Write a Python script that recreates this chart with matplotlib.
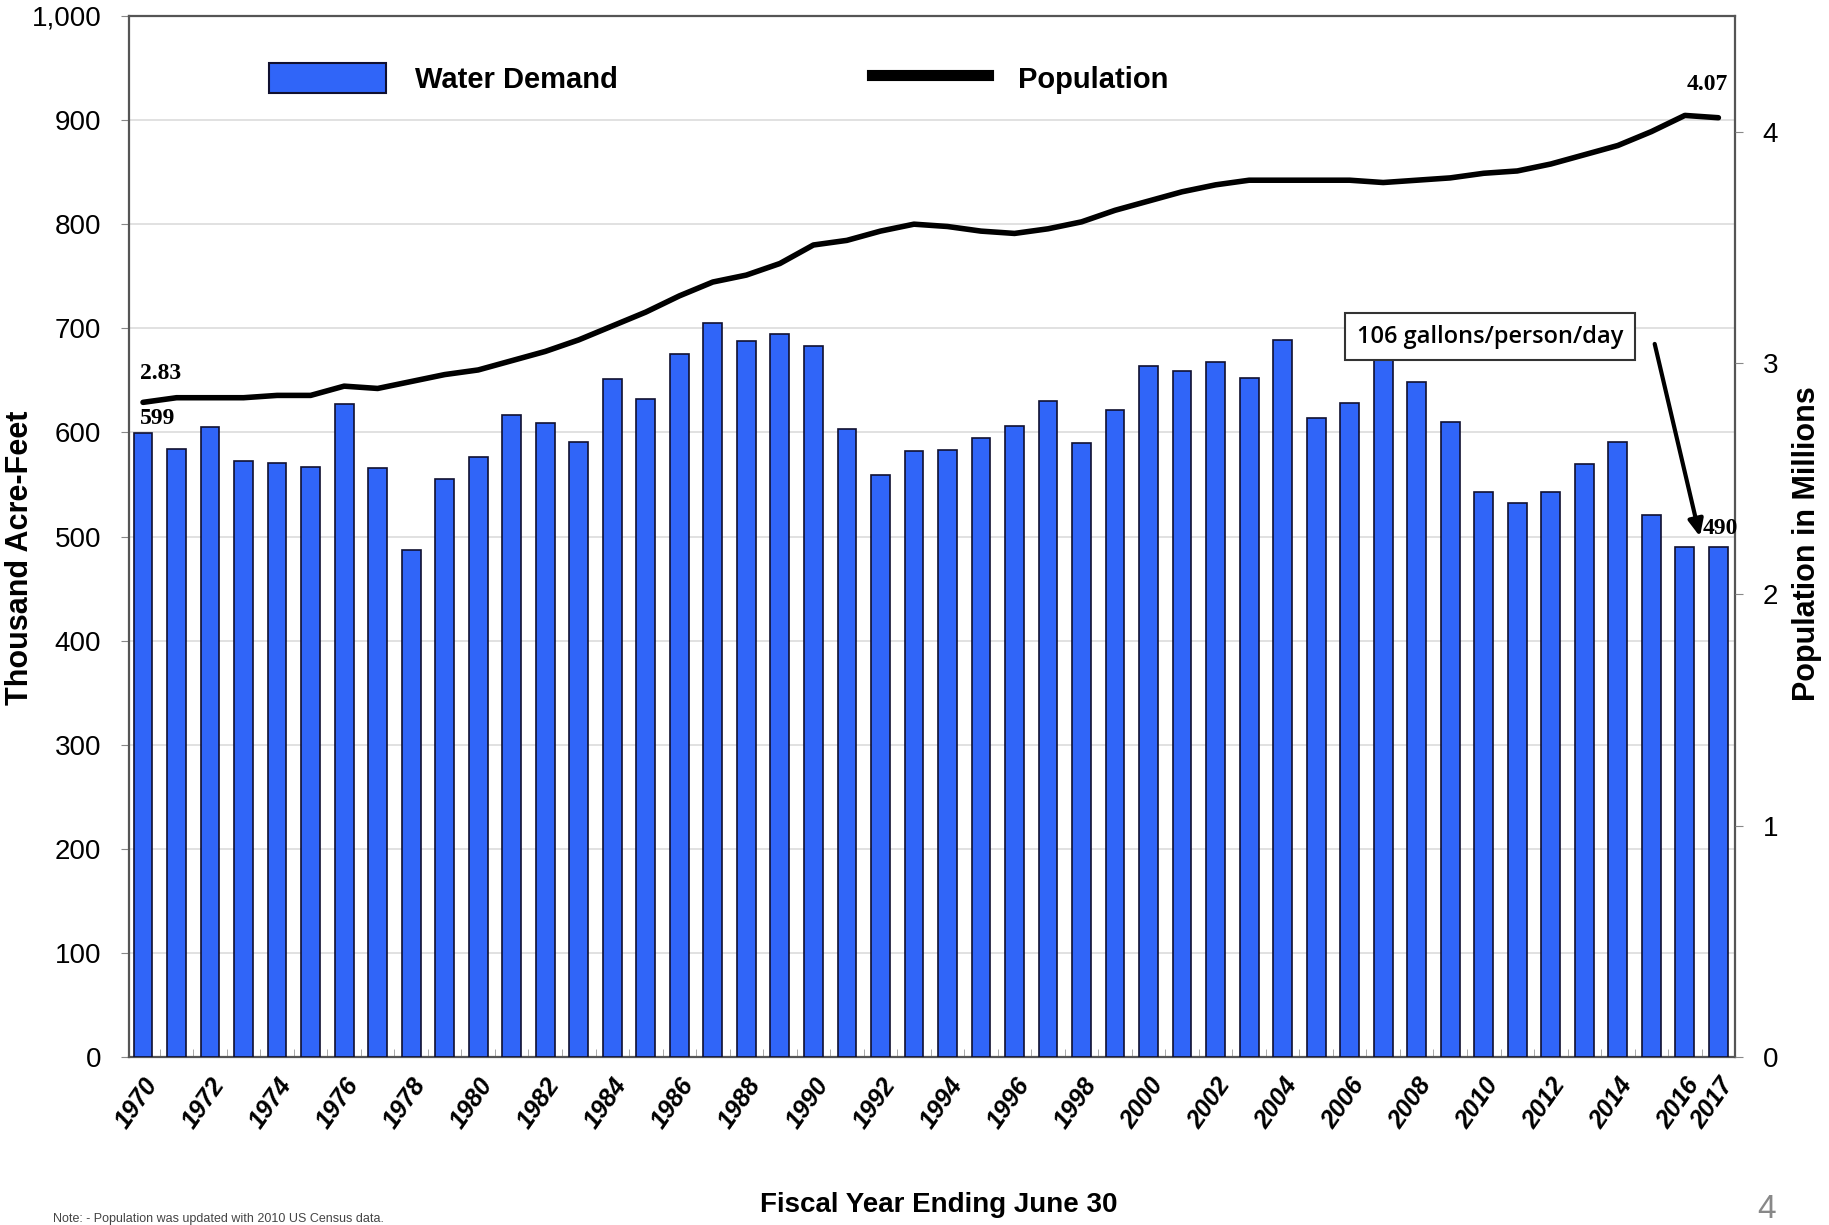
import matplotlib.pyplot as plt
import numpy as np
from matplotlib.patches import Patch
from matplotlib.lines import Line2D

plt.rcParams['font.family'] = ['Liberation Sans', 'DejaVu Sans']

# data
years = list(range(1970, 2018))
water_demand = [599, 584, 605, 573, 571, 567, 627, 566, 487, 555,
                576, 617, 609, 591, 651, 632, 675, 705, 688, 695,
                683, 603, 559, 582, 583, 595, 606, 630, 590, 622,
                664, 659, 668, 652, 689, 614, 628, 670, 648, 610,
                543, 532, 543, 570, 591, 521, 490, 490]
population = [2.83, 2.85, 2.85, 2.85, 2.86, 2.86, 2.90, 2.89, 2.92, 2.95,
              2.97, 3.01, 3.05, 3.10, 3.16, 3.22, 3.29, 3.35, 3.38, 3.43,
              3.51, 3.53, 3.57, 3.60, 3.59, 3.57, 3.56, 3.58, 3.61, 3.66,
              3.70, 3.74, 3.77, 3.79, 3.79, 3.79, 3.79, 3.78, 3.79, 3.80,
              3.82, 3.83, 3.86, 3.90, 3.94, 4.00, 4.07, 4.06]
tick_years = list(range(1970, 2017, 2)) + [2017]

bar_color = '#3065F8'
x = np.arange(len(years))

fig = plt.figure(figsize=(18.29, 12.25), dpi=100)
ax = fig.add_axes([0.0705, 0.137, 0.878, 0.850])

# bars
ax.bar(x, water_demand, width=0.56, color=bar_color, edgecolor='#101030',
       linewidth=1.2, zorder=3)
ax.set_xlim(-0.42, len(years) - 0.51)
ax.set_ylim(0, 1000)
ax.set_yticks(range(0, 1001, 100))
ax.set_yticklabels([f'{v:,}' for v in range(0, 1001, 100)], fontsize=20)
ax.grid(axis='y', color='#dcdcdc', linewidth=1.2, zorder=0)
ax.set_axisbelow(True)

ax.set_xticks([years.index(y) for y in tick_years])
ax.set_xticklabels([str(y) for y in tick_years], rotation=55, ha='right',
                   va='top', rotation_mode='anchor', fontsize=18,
                   fontweight='bold', fontstyle='italic')
ax.tick_params(axis='x', length=0, pad=12)
ax.set_xticks(x[:-1] + 0.5, minor=True)
ax.tick_params(axis='x', which='minor', direction='in', length=6,
               color='#999999')
ax.tick_params(axis='y', length=6, color='#888888', pad=14)
for s in ax.spines.values():
    s.set_color('#555555')
    s.set_linewidth(1.6)

ax.set_ylabel('Thousand Acre-Feet', fontsize=22, fontweight='bold',
              va='center')
ax.yaxis.set_label_coords(-0.068, 0.48)

# population line on secondary axis
ax2 = ax.twinx()
ax2.plot(x, population, color='black', linewidth=4, solid_capstyle='round',
         zorder=4)
ax2.set_ylim(0, 4.5)
ax2.set_yticks([0, 1, 2, 3, 4])
ax2.tick_params(axis='y', labelsize=20, length=6, color='#888888', pad=14)
ax2.set_ylabel('Population in Millions', fontsize=22, fontweight='bold',
               va='center')
ax2.yaxis.set_label_coords(1.045, 0.493)
for s in ax2.spines.values():
    s.set_visible(False)

# value labels
serif = dict(family='Liberation Serif', fontweight='bold', fontsize=17)
ax2.text(x[0] - 0.1, population[0] + 0.08, f'{population[0]:.2f}', ha='left',
         va='bottom', **serif)
ax.text(x[0] - 0.1, water_demand[0] + 4, str(water_demand[0]), ha='left',
        va='bottom', **serif)
ax2.text(x[-1] + 0.3, population[-1] + 0.1, '4.07', ha='right',
         va='bottom', **serif)
ax.text(x[-1] + 0.6, water_demand[-1] + 8, str(water_demand[-1]),
        ha='right', va='bottom', **serif)

# callout box and arrow
ax.text(40.2, 692, '106 gallons/person/day', ha='center', va='center',
        fontsize=17, family='Open Sans', fontweight='semibold', zorder=6,
        bbox=dict(boxstyle='square,pad=0.5', fc='white', ec='#333333',
                  lw=1.5))
ax.annotate('', xy=(46.45, 500), xytext=(45.1, 685), zorder=6,
            arrowprops=dict(arrowstyle='-|>,head_width=0.45,head_length=1.0',
                            color='black', lw=3, shrinkA=0, shrinkB=0))

# legend
handles = [Patch(facecolor=bar_color, edgecolor='#101030', linewidth=1.5),
           Line2D([0], [0], color='black', linewidth=8)]
leg = ax2.legend(handles, ['Water Demand', 'Population'], ncol=2,
                 loc='upper left', bbox_to_anchor=(0.071, 0.98),
                 frameon=False, prop=dict(weight='bold', size=21),
                 handlelength=4.0, handleheight=1.2, handletextpad=1.0,
                 columnspacing=8.7)

fig.text(0.513, 0.006, 'Fiscal Year Ending June 30', ha='center',
         va='bottom', fontsize=20, fontweight='bold')
fig.text(0.029, 0.0, 'Note: - Population was updated with 2010 US Census data.',
         ha='left', va='bottom', fontsize=9, color='#444444')
fig.text(0.966, 0.0, '4', ha='center', va='bottom', fontsize=24,
         color='#888888')

fig.savefig('out.png', dpi=100)
